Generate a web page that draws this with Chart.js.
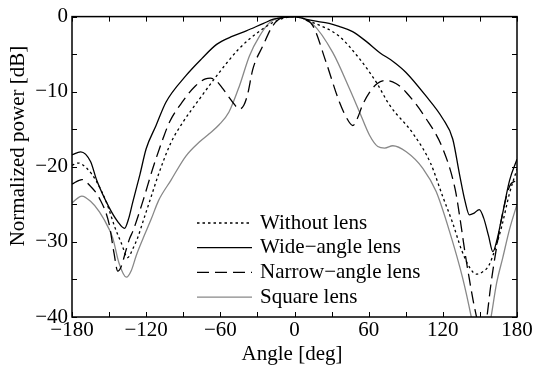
<!DOCTYPE html>
<html>
<head>
<meta charset="utf-8">
<script src="https://cdn.jsdelivr.net/npm/chart.js@4.4.1/dist/chart.umd.min.js"></script>
<style>
  body { margin: 0; background: #fff; }
</style>
</head>
<body>
<canvas id="patternCanvas" width="534" height="372"></canvas>
<script>
  // radiation pattern, angle in degrees vs normalized power in dB
  var withoutAngles = [-180,-175,-168,-160,-152,-145,-140,-135,-131,-127,-122,-116,-110,-100,-90,-77,-63,-45,-28,-15,0,15,36,53,66,77,96,110,120,128,135,142,147,152,157,163,168,174,180];
  var withoutPower  = [-19.8,-19.5,-20.2,-22.0,-24.8,-28.2,-30.2,-32.1,-31.0,-29.5,-27.0,-24.0,-21.0,-16.8,-14.0,-11.0,-7.9,-4.3,-1.9,-0.6,0,-0.8,-2.6,-5.7,-8.7,-11.8,-15.6,-19.5,-24.0,-27.5,-31.0,-33.5,-34.3,-34.0,-33.2,-30.6,-27.7,-23.5,-20.3];

  var wideAngles = [-180,-173,-165,-160,-150,-143,-137.5,-134,-131,-125,-120,-112,-104,-88,-75,-63,-50,-39,-25,-17,-8,0,8,15,28,36,47,58,69,80,90,106,120,128,133.5,138,141.5,145,149.5,153,157,160.5,164,168,174,180];
  var widePower  = [-18.4,-18.0,-19.3,-21.8,-25.4,-27.3,-28.2,-26.8,-24.8,-21.0,-17.6,-14.5,-11.4,-7.9,-5.6,-3.7,-2.6,-1.9,-0.9,-0.35,-0.1,0,-0.3,-0.55,-0.9,-1.3,-2.0,-3.3,-4.8,-6.0,-7.4,-10.5,-13.6,-16.3,-21.0,-24.6,-26.4,-26.2,-25.7,-26.8,-29.2,-31.3,-29.6,-26.5,-21.8,-19.0];

  var narrowAngles = [-180,-172,-165,-157.8,-150,-146,-143,-140,-137,-133.5,-130.8,-122.7,-114.6,-106.5,-101,-90,-80,-72,-68,-63,-58,-50,-44.5,-41,-38,-33.7,-25.6,-17.5,-9.5,0,7,14.8,25.6,36.4,44,47.2,51,55,60.7,67,74,82,90.4,106.5,120,130,134,138,141.5,144.5,147.5,151.5,155.5,159,163,168,174,180];
  var narrowPower  = [-22.3,-21.7,-22.6,-24.2,-27.6,-31.5,-33.9,-33.2,-31.5,-29.6,-28.6,-24.6,-20.2,-16.3,-14.0,-11.2,-9.2,-8.3,-8.2,-8.6,-9.6,-11.4,-12.3,-11.8,-10.4,-7.0,-3.9,-1.2,-0.13,0,-0.3,-1.2,-6.1,-11.4,-14.0,-14.5,-13.5,-11.8,-10.1,-8.9,-8.5,-8.9,-10.1,-13.6,-17.6,-23.0,-27.0,-31.5,-35.0,-37.8,-40.2,-44.0,-40.2,-35.5,-31.2,-26.5,-22.6,-21.8];

  var squareAngles = [-180,-172,-165,-157.8,-150,-147,-142,-136,-132,-128,-122.7,-116,-110,-100,-88,-77,-69,-61,-53,-44.5,-36.4,-28.3,-20.2,-12,0,14.8,31,44.5,52.6,60.7,67.4,73,79.5,90.4,103.8,114.6,125.4,136,143,147,151,155,159,163.5,168.5,174,180];
  var squarePower  = [-24.8,-23.9,-24.6,-26.0,-28.3,-29.5,-32.8,-34.7,-33.8,-31.8,-29.6,-27.0,-24.5,-21.8,-18.6,-16.7,-15.6,-14.4,-12.7,-9.2,-5.2,-2.6,-0.8,-0.15,0,-1.0,-4.8,-9.6,-12.7,-15.8,-17.3,-17.5,-17.2,-18.0,-20.2,-23.3,-28.6,-34.8,-40.0,-43.5,-45.0,-43.5,-40.0,-35.5,-32.1,-28.3,-25.0];

  var seriesNames = ['Without lens', 'Wide\u2212angle lens', 'Narrow\u2212angle lens', 'Square lens'];
  var xTickLabels = [-180, -120, -60, 0, 60, 120, 180];
  var yTickLabels = [0, -10, -20, -30, -40];

  var serif = '"Liberation Serif", "Times New Roman", serif';
  Chart.defaults.font.family = serif;
  Chart.defaults.font.size = 21;
  Chart.defaults.color = '#000';

  function pts(xs, ys) {
    return xs.map(function (x, i) { return {x: x, y: ys[i]}; });
  }
  function minus(v) {
    return v < 0 ? '\u2212' + Math.abs(v) : String(v);
  }

  // box, inward ticks, axis titles and legend
  var framePlugin = {
    id: 'frame',
    afterDraw: function (chart) {
      var c = chart.ctx, a = chart.chartArea;
      var xs = chart.scales.x, ys = chart.scales.y;
      var tl = 5;
      c.save();
      c.strokeStyle = '#000';
      c.lineWidth = 1;
      c.beginPath();
      xs.ticks.forEach(function (t) {
        var p = Math.round(xs.getPixelForValue(t.value)) + 0.5;
        c.moveTo(p, a.bottom); c.lineTo(p, a.bottom - tl);
        c.moveTo(p, a.top); c.lineTo(p, a.top + tl);
      });
      ys.ticks.forEach(function (t) {
        var p = Math.round(ys.getPixelForValue(t.value)) + 0.5;
        c.moveTo(a.left, p); c.lineTo(a.left + tl, p);
        c.moveTo(a.right, p); c.lineTo(a.right - tl, p);
      });
      c.stroke();
      c.lineWidth = 1.5;
      c.strokeRect(a.left, a.top, a.right - a.left, a.bottom - a.top);

      c.fillStyle = '#000';
      c.font = '21px ' + serif;
      c.textBaseline = 'middle';
      c.textAlign = 'center';
      c.fillText('Angle [deg]', 292, 354);
      c.save();
      c.translate(18, 146);
      c.rotate(-Math.PI / 2);
      c.fillText('Normalized power [dB]', 0, 0);
      c.restore();

      c.textAlign = 'left';
      chart.data.datasets.forEach(function (ds, i) {
        var y = 223 + i * 24.7;
        c.save();
        c.strokeStyle = ds.borderColor;
        c.lineWidth = ds.borderWidth;
        c.setLineDash(ds.borderDash || []);
        c.beginPath();
        c.moveTo(197, y); c.lineTo(252, y);
        c.stroke();
        c.restore();
        c.fillText(ds.label, 260, y);
      });
      c.restore();
    }
  };

  var ctx = document.getElementById('patternCanvas').getContext('2d');
  var chart = new Chart(ctx, {
    type: 'line',
    data: {
      datasets: [{
        label: seriesNames[0],
        data: pts(withoutAngles, withoutPower),
        borderColor: '#000',
        borderWidth: 1.3,
        borderDash: [2.5, 3]
      }, {
        label: seriesNames[1],
        data: pts(wideAngles, widePower),
        borderColor: '#000',
        borderWidth: 1.3
      }, {
        label: seriesNames[2],
        data: pts(narrowAngles, narrowPower),
        borderColor: '#000',
        borderWidth: 1.3,
        borderDash: [12, 6]
      }, {
        label: seriesNames[3],
        data: pts(squareAngles, squarePower),
        borderColor: '#888',
        borderWidth: 1.3
      }]
    },
    options: {
      responsive: false,
      animation: false,
      events: [],
      cubicInterpolationMode: 'monotone',
      elements: { point: { radius: 0 } },
      layout: { padding: { left: 0, top: 14, right: 17, bottom: 0 } },
      plugins: { legend: { display: false }, tooltip: { enabled: false } },
      scales: {
        x: {
          type: 'linear',
          min: -180, max: 180,
          grid: { display: false, drawTicks: false },
          border: { display: false },
          ticks: {
            stepSize: 30, autoSkip: false, maxRotation: 0, padding: 1,
            callback: function (v) { return xTickLabels.indexOf(v) >= 0 ? minus(v) : ''; }
          },
          afterFit: function (s) { s.height = 55; }
        },
        y: {
          min: -40, max: 0,
          grid: { display: false, drawTicks: false },
          border: { display: false },
          ticks: {
            stepSize: 5, autoSkip: false, padding: 4,
            callback: function (v) { return yTickLabels.indexOf(v) >= 0 ? minus(v) : ''; }
          },
          afterFit: function (s) { s.width = 72; }
        }
      }
    },
    plugins: [framePlugin]
  });
</script>
</body>
</html>
